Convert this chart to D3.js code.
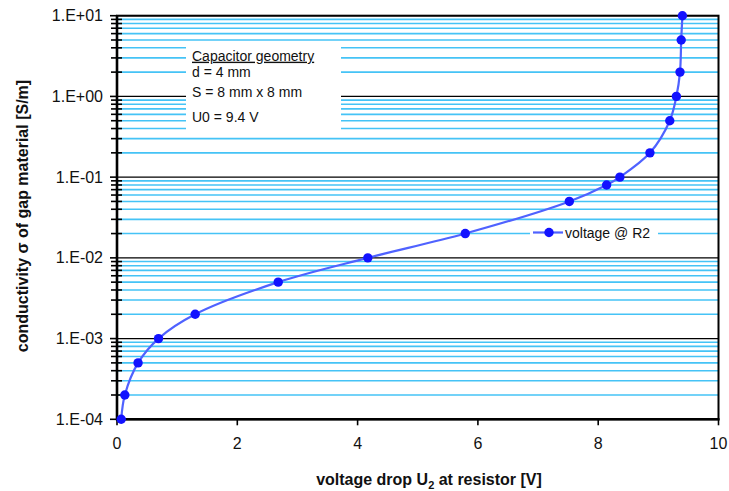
<!DOCTYPE html>
<html>
<head>
<meta charset="utf-8">
<script src="https://cdn.jsdelivr.net/npm/d3@7"></script>
<style>
  html, body { margin: 0; padding: 0; background: #fff; }
  svg { display: block; font-family: Arial, "Liberation Sans", Helvetica, sans-serif; }
</style>
</head>
<body>
<svg id="chart" width="729" height="491"></svg>
<script>
// ---- data ----
const voltage = [0.07, 0.13, 0.35, 0.69, 1.30, 2.68, 4.17, 5.79, 7.52, 8.14, 8.36, 8.86, 9.19, 9.30, 9.36, 9.38, 9.40];
const conductivity = [1e-4, 2e-4, 5e-4, 1e-3, 2e-3, 5e-3, 1e-2, 2e-2, 5e-2, 8e-2, 1e-1, 2e-1, 5e-1, 1, 2, 5, 10];
const xTicks = [0, 2, 4, 6, 8, 10];
const yMajorTicks = [1e-4, 1e-3, 1e-2, 1e-1, 1, 10];
const yTickLabels = ["1.E-04", "1.E-03", "1.E-02", "1.E-01", "1.E+00", "1.E+01"];
const minorMultipliers = [2, 3, 4, 5, 6, 7, 8, 9];
const seriesName = "voltage @ R2";
const xTitle = ["voltage drop U", "2", " at resistor [V]"];
const yTitle = "conductivity σ of gap material [S/m]";
const noteLines = ["Capacitor geometry", "d = 4 mm", "S = 8 mm x 8 mm", "U0 = 9.4 V"];

// ---- layout ----
const svg = d3.select("#chart");
const plot = { left: 117, right: 718.5, top: 15.7, bottom: 419.3 };
const x = d3.scaleLinear().domain([0, 10]).range([plot.left, plot.right]);
const y = d3.scaleLog().domain([1e-4, 10]).range([plot.bottom, plot.top]);

const minorVals = [];
yMajorTicks.slice(0, -1).forEach(d => minorMultipliers.forEach(m => minorVals.push(d * m)));

const gridColor = "#45c3f6";

// minor gridlines
svg.append("g").selectAll("line").data(minorVals).join("line")
  .attr("x1", plot.left).attr("x2", plot.right)
  .attr("y1", d => y(d)).attr("y2", d => y(d))
  .attr("stroke", gridColor).attr("stroke-width", 1.6);

// major gridlines
svg.append("g").selectAll("line").data(yMajorTicks).join("line")
  .attr("x1", plot.left).attr("x2", plot.right)
  .attr("y1", d => y(d)).attr("y2", d => y(d))
  .attr("stroke", "#000").attr("stroke-width", 1.3);

// annotation box (white, covering gridlines)
svg.append("rect").attr("x", 186).attr("y", 44).attr("width", 155).attr("height", 90).attr("fill", "#fff");
const noteY = [60.7, 77.3, 96.5, 122];
svg.append("g").selectAll("text").data(noteLines).join("text")
  .attr("x", 192).attr("y", (d, i) => noteY[i])
  .attr("font-size", 14).attr("fill", "#111")
  .style("text-decoration", (d, i) => i === 0 ? "underline" : null)
  .text(d => d);

// legend box
svg.append("rect").attr("x", 530).attr("y", 226).attr("width", 128).attr("height", 15).attr("fill", "#fff");

// plot frame
svg.append("rect").attr("x", plot.left).attr("y", plot.top)
  .attr("width", plot.right - plot.left).attr("height", plot.bottom - plot.top)
  .attr("fill", "none").attr("stroke", "#000").attr("stroke-width", 2);
// thicker left/bottom axes
svg.append("line").attr("x1", plot.left).attr("x2", plot.left).attr("y1", plot.top).attr("y2", plot.bottom + 1)
  .attr("stroke", "#000").attr("stroke-width", 2.6);
svg.append("line").attr("x1", plot.left - 1).attr("x2", plot.right + 1).attr("y1", plot.bottom).attr("y2", plot.bottom)
  .attr("stroke", "#000").attr("stroke-width", 2.6);

// y axis ticks
svg.append("g").selectAll("line").data(yMajorTicks).join("line")
  .attr("x1", plot.left - 7).attr("x2", plot.left)
  .attr("y1", d => y(d)).attr("y2", d => y(d))
  .attr("stroke", "#000").attr("stroke-width", 1.6);
svg.append("g").selectAll("line").data(minorVals).join("line")
  .attr("x1", plot.left - 6).attr("x2", plot.left + 5)
  .attr("y1", d => y(d)).attr("y2", d => y(d))
  .attr("stroke", "#000").attr("stroke-width", 1.6);
svg.append("g").selectAll("text").data(yMajorTicks).join("text")
  .attr("x", 103).attr("y", d => y(d)).attr("dy", "0.35em")
  .attr("text-anchor", "end").attr("font-size", 16).attr("fill", "#111")
  .text((d, i) => yTickLabels[i]);

// x axis ticks
svg.append("g").selectAll("line").data(xTicks).join("line")
  .attr("x1", d => x(d)).attr("x2", d => x(d))
  .attr("y1", plot.bottom).attr("y2", plot.bottom + 6)
  .attr("stroke", "#000").attr("stroke-width", 1.6);
svg.append("g").selectAll("text").data(xTicks).join("text")
  .attr("x", d => x(d)).attr("y", 448.5)
  .attr("text-anchor", "middle").attr("font-size", 16).attr("fill", "#111")
  .text(d => d);

// axis titles
const xt = svg.append("text").attr("x", 429).attr("y", 484.5)
  .attr("text-anchor", "middle").attr("font-size", 16).attr("font-weight", "bold").attr("fill", "#111");
xt.append("tspan").text(xTitle[0]);
xt.append("tspan").attr("font-size", 11).attr("dy", 4).text(xTitle[1]);
xt.append("tspan").attr("dy", -4).text(xTitle[2]);

svg.append("text").attr("transform", "translate(28,216) rotate(-90)")
  .attr("text-anchor", "middle").attr("font-size", 16).attr("font-weight", "bold").attr("fill", "#111")
  .text(yTitle);

// series
const pts = voltage.map((v, i) => [v, conductivity[i]]);
const lineColor = "#4f62ff";
const markerColor = "#1212ff";
svg.append("path").datum(pts)
  .attr("d", d3.line().x(d => x(d[0])).y(d => y(d[1])).curve(d3.curveCatmullRom.alpha(0.5)))
  .attr("fill", "none").attr("stroke", lineColor).attr("stroke-width", 2.2);
svg.append("g").selectAll("circle").data(pts).join("circle")
  .attr("cx", d => x(d[0])).attr("cy", d => y(d[1])).attr("r", 4.7)
  .attr("fill", markerColor);

// legend
svg.append("line").attr("x1", 533).attr("x2", 563).attr("y1", 232.5).attr("y2", 232.5)
  .attr("stroke", lineColor).attr("stroke-width", 2.2);
svg.append("circle").attr("cx", 549).attr("cy", 232.5).attr("r", 4.7).attr("fill", markerColor);
svg.append("text").attr("x", 565).attr("y", 237.5).attr("font-size", 14).attr("fill", "#111").text(seriesName);
</script>
</body>
</html>
